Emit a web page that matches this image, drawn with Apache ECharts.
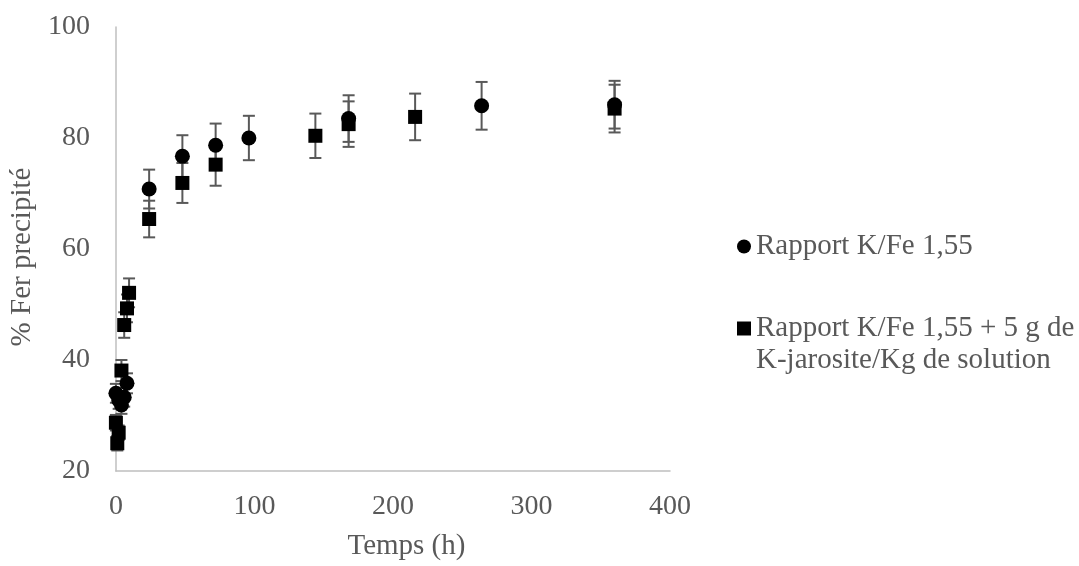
<!DOCTYPE html>
<html>
<head>
<meta charset="utf-8">
<script src="https://cdn.jsdelivr.net/npm/echarts@6/dist/echarts.min.js"></script>
<style>
html,body{margin:0;padding:0;background:#fff;}
#chart{width:1079px;height:566px;}
</style>
</head>
<body>
<div id="chart"></div>
<script>
// ---- data ----
var seriesNameA = 'Rapport K/Fe 1,55';
var seriesNameB = 'Rapport K/Fe 1,55 + 5 g de K-jarosite/Kg de solution';
var legendLineB1 = 'Rapport K/Fe 1,55 + 5 g de';
var legendLineB2 = 'K-jarosite/Kg de solution';
var xAxisTitle = 'Temps (h)';
var yAxisTitle = '% Fer precipité';

var timesA  = [0, 2, 4, 6, 8, 24, 48, 72, 96, 168, 264, 360];
var valuesA = [34.0, 32.8, 31.9, 33.3, 35.8, 70.8, 76.7, 78.7, 80.0, 83.5, 85.8, 86.0];
var errorsA = [1.7, 1.6, 1.6, 1.7, 1.8, 3.5, 3.8, 3.9, 4.0, 4.2, 4.3, 4.3];

var timesB  = [0, 1, 2, 4, 6, 8, 9.5, 24, 48, 72, 144, 168, 216, 360];
var valuesB = [28.7, 25.0, 26.9, 38.1, 46.3, 49.3, 52.1, 65.4, 71.9, 75.2, 80.4, 82.5, 83.8, 85.3];
var errorsB = [1.4, 1.3, 1.3, 1.9, 2.3, 2.5, 2.6, 3.3, 3.6, 3.8, 4.0, 4.1, 4.2, 4.3];

var xTicks = [0, 100, 200, 300, 400];
var yTicks = [20, 40, 60, 80, 100];

// ---- build ----
function pts(t, v) { return t.map(function (x, i) { return [x, v[i]]; }); }
function errs(t, v, e) { return t.map(function (x, i) { return [x, v[i] - e[i], v[i] + e[i]]; }); }

function errRender(params, api) {
  var x = api.value(0);
  var lo = api.coord([x, api.value(1)]);
  var hi = api.coord([x, api.value(2)]);
  var cap = 6;
  var st = { stroke: '#595959', lineWidth: 2 };
  return {
    type: 'group',
    children: [
      { type: 'line', shape: { x1: lo[0], y1: lo[1], x2: hi[0], y2: hi[1] }, style: st },
      { type: 'line', shape: { x1: lo[0] - cap, y1: lo[1], x2: lo[0] + cap, y2: lo[1] }, style: st },
      { type: 'line', shape: { x1: hi[0] - cap, y1: hi[1], x2: hi[0] + cap, y2: hi[1] }, style: st }
    ]
  };
}

var font = 'Liberation Serif';
var fs = 28;
var fsT = 29;
var chart = echarts.init(document.getElementById('chart'), null, { renderer: 'canvas' });
chart.setOption({
  backgroundColor: '#ffffff',
  animation: false,
  grid: { left: 115, right: 409, top: 27, bottom: 89, containLabel: false },
  xAxis: {
    type: 'value', min: xTicks[0], max: xTicks[xTicks.length - 1], interval: 100,
    name: xAxisTitle, nameLocation: 'middle', nameGap: 61,
    nameTextStyle: { fontFamily: font, fontSize: fsT, color: '#595959', padding: [0, 0, 0, 27] },
    axisLine: { show: true, lineStyle: { color: '#bfbfbf', width: 1.5 } },
    axisTick: { show: false },
    splitLine: { show: false },
    axisLabel: { fontFamily: font, fontSize: fs, color: '#595959', margin: 22 }
  },
  yAxis: {
    type: 'value', min: yTicks[0], max: yTicks[yTicks.length - 1], interval: 20,
    name: yAxisTitle, nameLocation: 'middle', nameGap: 78, nameRotate: 90,
    nameTextStyle: { fontFamily: font, fontSize: fsT, color: '#595959', padding: [0, 16, 0, 0] },
    axisLine: { show: true, lineStyle: { color: '#bfbfbf', width: 1.5 } },
    axisTick: { show: false },
    splitLine: { show: false },
    axisLabel: { fontFamily: font, fontSize: fs, color: '#595959', margin: 26 }
  },
  legend: {
    orient: 'vertical', left: 732, top: 227, itemGap: 53,
    itemWidth: 14, itemHeight: 14,
    data: [
      { name: seriesNameA, icon: 'circle' },
      { name: seriesNameB, icon: 'rect' }
    ],
    formatter: function (n) { return n === seriesNameB ? legendLineB1 : n; },
    textStyle: { fontFamily: font, fontSize: fsT, color: '#595959' },
    itemStyle: { opacity: 1 },
    selectedMode: false
  },
  graphic: [{
    type: 'text', left: 756, top: 346,
    style: { text: legendLineB2, font: fsT + 'px "Liberation Serif"', fill: '#595959' }
  }],
  series: [
    { type: 'custom', name: 'errA', renderItem: errRender, data: errs(timesA, valuesA, errorsA), z: 1, silent: true },
    { type: 'custom', name: 'errB', renderItem: errRender, data: errs(timesB, valuesB, errorsB), z: 1, silent: true },
    { type: 'scatter', name: seriesNameB, symbol: 'rect', symbolSize: 14, data: pts(timesB, valuesB), itemStyle: { color: '#000000', opacity: 1 }, z: 3 },
    { type: 'scatter', name: seriesNameA, symbol: 'circle', symbolSize: 15, data: pts(timesA, valuesA), itemStyle: { color: '#000000', opacity: 1 }, z: 3 }
  ]
});
</script>
</body>
</html>
